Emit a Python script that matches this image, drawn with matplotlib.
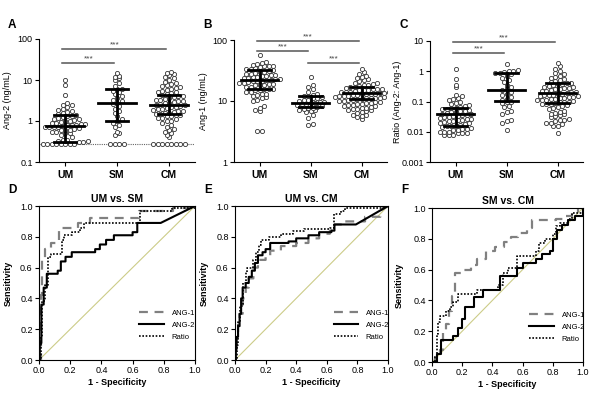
import numpy as np
import matplotlib
matplotlib.use('Agg')
import matplotlib.pyplot as plt
from matplotlib.ticker import FixedLocator, NullLocator

plt.rcParams['font.family'] = ['Liberation Sans', 'DejaVu Sans']

groups = ['UM', 'SM', 'CM']

# ---- panel A: Ang-2 (ng/mL) ----
ang2_um = [0.27] * 8 + [0.3, 0.3, 0.32, 0.33, 0.35, 0.35, 0.4, 0.45, 0.5, 0.5,
           0.55, 0.55, 0.6, 0.6, 0.62, 0.65, 0.68, 0.7, 0.7, 0.72, 0.72, 0.75,
           0.78, 0.8, 0.8, 0.85, 0.85, 0.9, 0.9, 0.95, 1.0, 1.0, 1.05, 1.1, 1.15,
           1.2, 1.25, 1.3, 1.3, 1.4, 1.5, 1.6, 1.7, 1.8, 1.9, 2.0, 2.2, 2.4, 2.5,
           2.7, 4.2, 7.5, 10.0]
ang2_sm = [0.27] * 4 + [0.45, 0.5, 0.55, 0.7, 0.8, 0.9, 1.0, 1.1, 1.3, 1.6, 1.8,
           2.0, 2.3, 2.6, 2.8, 3.0, 3.3, 3.6, 4.0, 4.5, 5.0, 5.5, 6.0, 6.2, 7.0,
           8.5, 10.0, 11.0, 12.0, 12.5, 15.0]
ang2_cm = [0.27] * 8 + [0.4, 0.45, 0.5, 0.55, 0.6, 0.65, 0.7, 0.8, 0.9, 1.0,
           1.0, 1.1, 1.2, 1.2, 1.3, 1.3, 1.4, 1.4, 1.5, 1.5, 1.6, 1.6, 1.7, 1.8,
           1.8, 1.9, 2.0, 2.0, 2.1, 2.2, 2.2, 2.3, 2.4, 2.5, 2.6, 2.7, 2.8, 2.9,
           3.0, 3.1, 3.2, 3.3, 3.5, 3.6, 3.8, 4.0, 4.0, 4.2, 4.5, 4.8, 5.0, 5.2,
           5.5, 5.8, 6.0, 6.3, 6.6, 7.0, 7.5, 8.0, 8.5, 9.0, 10.0, 11.0, 12.0,
           13.0, 14.0, 15.0, 16.0]
ang2_med = [0.77, 2.8, 2.45]
ang2_q1 = [0.31, 1.0, 1.45]
ang2_q3 = [1.4, 5.9, 4.3]
ang2_floor = 0.27

# ---- panel B: Ang-1 (ng/mL) ----
ang1_um = [3.2, 3.2, 6.8, 7.2, 7.8, 8.2, 10, 10.5, 11, 11.5, 12, 12.5, 13, 13,
           14, 14, 15, 15, 15.5, 16, 16, 17, 17, 18, 18, 18.5, 19, 19, 20, 20,
           20.5, 21, 21, 21.5, 22, 22, 23, 23, 24, 24, 25, 25, 26, 26, 27, 27,
           28, 28, 29, 30, 30, 31, 32, 33, 34, 35, 36, 37, 37, 38, 39, 40, 42,
           44, 57]
ang1_sm = [4.0, 4.2, 5.2, 5.8, 6.5, 6.8, 7.0, 7.2, 7.5, 7.7, 7.8, 8.0, 8.2, 8.5,
           8.8, 9.0, 9.2, 9.3, 9.5, 9.8, 10, 10.3, 10.5, 11, 11, 11.5, 12, 12.2,
           12.5, 13, 14, 16, 17, 18.5, 25]
ang1_cm = [5.0, 5.5, 5.7, 5.8, 6.0, 6.3, 6.5, 6.8, 7.0, 7.2, 7.3, 7.5, 7.7, 7.8,
           8.0, 8.2, 8.4, 8.5, 8.7, 8.9, 9.0, 9.2, 9.4, 9.6, 9.8, 10, 10, 10.2,
           10.4, 10.6, 10.8, 11, 11, 11.2, 11.4, 11.6, 11.8, 12, 12, 12.2, 12.4,
           12.6, 12.8, 13, 13, 13.2, 13.4, 13.6, 13.8, 14, 14, 14.3, 14.6, 15, 15,
           15.3, 15.6, 16, 16, 16.5, 17, 17, 17.5, 18, 18.5, 19, 19.5, 20, 21,
           22, 23, 24, 25, 26, 28, 30, 33]
ang1_med = [22.3, 9.4, 13.4]
ang1_q1 = [16, 7.9, 10.7]
ang1_q3 = [32, 12.2, 17.2]

# ---- panel C: Ratio (Ang-2: Ang-1) ----
ratio_um = [0.008, 0.008, 0.008, 0.009, 0.009, 0.009, 0.01, 0.01, 0.01, 0.011,
            0.011, 0.012, 0.012, 0.013, 0.014, 0.015, 0.015, 0.016, 0.017, 0.018,
            0.019, 0.02, 0.021, 0.022, 0.023, 0.024, 0.025, 0.026, 0.027, 0.028,
            0.03, 0.031, 0.033, 0.034, 0.035, 0.036, 0.038, 0.04, 0.042, 0.044,
            0.046, 0.048, 0.05, 0.052, 0.055, 0.058, 0.06, 0.062, 0.065, 0.07,
            0.075, 0.08, 0.09, 0.1, 0.11, 0.12, 0.13, 0.15, 0.16, 0.3, 0.35, 0.55,
            1.2]
ratio_sm = [0.011, 0.02, 0.023, 0.025, 0.04, 0.045, 0.05, 0.065, 0.07, 0.09, 0.1,
            0.1, 0.11, 0.12, 0.14, 0.16, 0.18, 0.2, 0.24, 0.28, 0.3, 0.35, 0.45,
            0.5, 0.6, 0.7, 0.8, 0.85, 0.9, 0.95, 1.0, 1.05, 1.1, 1.7]
ratio_cm = [0.009, 0.015, 0.016, 0.018, 0.02, 0.02, 0.022, 0.024, 0.025, 0.027,
            0.03, 0.032, 0.035, 0.038, 0.04, 0.042, 0.045, 0.05, 0.055, 0.06,
            0.065, 0.07, 0.075, 0.08, 0.085, 0.085, 0.09, 0.095, 0.1, 0.1, 0.105,
            0.11, 0.11, 0.115, 0.12, 0.125, 0.13, 0.135, 0.14, 0.145, 0.15, 0.155,
            0.16, 0.165, 0.17, 0.175, 0.18, 0.19, 0.2, 0.21, 0.22, 0.23, 0.24,
            0.25, 0.26, 0.27, 0.28, 0.3, 0.31, 0.33, 0.35, 0.37, 0.38, 0.4, 0.42,
            0.45, 0.48, 0.5, 0.55, 0.6, 0.65, 0.7, 0.8, 0.9, 1.0, 1.2, 1.5, 1.9]
ratio_med = [0.038, 0.24, 0.19]
ratio_q1 = [0.0155, 0.107, 0.087]
ratio_q3 = [0.063, 0.9, 0.4]

# ---- ROC curves (knots: fpr where sensitivity steps up) ----
d_ang1_x = [0, 0.01, 0.02, 0.04, 0.08, 0.13, 0.25, 0.33, 0.64, 0.86, 1.0]
d_ang1_y = [0, 0.42, 0.66, 0.72, 0.76, 0.86, 0.89, 0.92, 0.97, 0.99, 1.0]
d_ang2_x = [0, 0.005, 0.015, 0.03, 0.05, 0.12, 0.14, 0.17, 0.21, 0.36, 0.39,
            0.43, 0.48, 0.60, 0.63, 0.78]
d_ang2_y = [0, 0.11, 0.36, 0.47, 0.56, 0.58, 0.64, 0.67, 0.70, 0.72, 0.75,
            0.78, 0.81, 0.83, 0.89, 0.89]
d_ratio_x = [0, 0.01, 0.02, 0.04, 0.06, 0.08, 0.15, 0.16, 0.21, 0.26, 0.29,
             0.65, 0.85, 1.0]
d_ratio_y = [0, 0.15, 0.38, 0.49, 0.67, 0.69, 0.78, 0.81, 0.83, 0.86, 0.89,
             0.97, 0.99, 1.0]

e_ang1_x = [0, 0.005, 0.01, 0.02, 0.03, 0.05, 0.07, 0.09, 0.12, 0.15, 0.2, 0.23,
            0.3, 0.4, 0.48, 0.55, 0.62, 0.65, 0.7, 0.85, 0.95]
e_ang1_y = [0, 0.06, 0.15, 0.23, 0.3, 0.4, 0.47, 0.53, 0.6, 0.65, 0.68, 0.71,
            0.74, 0.76, 0.79, 0.82, 0.84, 0.88, 0.9, 0.93, 0.97]
e_ang2_x = [0, 0.005, 0.01, 0.02, 0.03, 0.04, 0.05, 0.07, 0.09, 0.11, 0.13, 0.15,
            0.18, 0.20, 0.23, 0.35, 0.40, 0.48, 0.55, 0.63, 0.65, 0.79]
e_ang2_y = [0, 0.07, 0.15, 0.22, 0.30, 0.40, 0.47, 0.50, 0.54, 0.58, 0.63, 0.68,
            0.70, 0.72, 0.76, 0.77, 0.79, 0.81, 0.83, 0.84, 0.88, 0.88]
e_ratio_x = [0, 0.01, 0.02, 0.03, 0.05, 0.07, 0.08, 0.12, 0.14, 0.16, 0.17, 0.22,
             0.3, 0.38, 0.45, 0.62, 0.65, 0.69, 0.72, 0.97]
e_ratio_y = [0, 0.1, 0.25, 0.35, 0.5, 0.57, 0.6, 0.65, 0.7, 0.75, 0.78, 0.8,
             0.82, 0.84, 0.85, 0.86, 0.95, 0.97, 0.99, 1.0]

f_ang1_x = [0, 0.02, 0.05, 0.07, 0.09, 0.11, 0.13, 0.15, 0.2, 0.26, 0.3, 0.36,
            0.42, 0.48, 0.52, 0.57, 0.63, 0.66, 0.82, 0.88, 0.93, 0.97]
f_ang1_y = [0, 0.03, 0.08, 0.2, 0.25, 0.33, 0.43, 0.58, 0.6, 0.63, 0.67, 0.72,
            0.75, 0.78, 0.81, 0.84, 0.87, 0.92, 0.93, 0.95, 0.97, 1.0]
f_ang2_x = [0, 0.03, 0.06, 0.14, 0.17, 0.2, 0.22, 0.28, 0.34, 0.45, 0.56, 0.6,
            0.69, 0.73, 0.78, 0.8, 0.83, 0.86, 0.9, 0.95, 1.0]
f_ang2_y = [0, 0.05, 0.14, 0.17, 0.22, 0.28, 0.36, 0.42, 0.47, 0.56, 0.61, 0.64,
            0.67, 0.70, 0.72, 0.80, 0.86, 0.89, 0.92, 0.95, 1.0]
f_ratio_x = [0, 0.02, 0.03, 0.04, 0.05, 0.09, 0.12, 0.14, 0.17, 0.3, 0.44, 0.47,
             0.5, 0.56, 0.69, 0.71, 0.75, 0.8, 0.82, 0.85, 0.9, 0.93, 1.0]
f_ratio_y = [0, 0.03, 0.18, 0.26, 0.3, 0.33, 0.36, 0.39, 0.44, 0.47, 0.5, 0.58,
             0.61, 0.69, 0.72, 0.77, 0.8, 0.83, 0.88, 0.9, 0.93, 0.97, 1.0]

W, H = 600, 403
fig = plt.figure(figsize=(W / 100, H / 100), dpi=100)


def box(l, t, r, b):
    return [l / W, 1 - b / H, (r - l) / W, (b - t) / H]


def swarm(ax, values, center, ppd, ppu, row_px=4.5, col_px=4.5):
    v = np.asarray(values, float)
    rows = np.round(np.log10(v) * ppd / row_px)
    xs = np.zeros(len(v))
    for r in np.unique(rows):
        idx = np.where(rows == r)[0]
        n = len(idx)
        xs[idx] = center + (np.arange(n) - (n - 1) / 2) * col_px / ppu
    ax.scatter(xs, v, s=9, facecolors='white', edgecolors='#333333',
               linewidths=0.6, zorder=2)


def dot_panel(rect, data, med, q1, q3, ylim, ticks, ylabel, sigs, letter, lx):
    ax = fig.add_axes(box(*rect))
    ax.set_yscale('log')
    ax.set_xlim(-0.5, 2.5)
    ax.set_ylim(*ylim)
    ppu = (rect[2] - rect[0]) / 3
    ppd = (rect[3] - rect[1]) / np.log10(ylim[1] / ylim[0])
    for i, vals in enumerate(data):
        swarm(ax, vals, i, ppd, ppu)
        ax.plot([i, i], [q1[i], q3[i]], color='black', lw=2, zorder=3)
        ax.plot([i - 0.36, i + 0.36], [med[i]] * 2, color='black', lw=2, zorder=3)
        for q in (q1[i], q3[i]):
            ax.plot([i - 0.22, i + 0.22], [q, q], color='black', lw=2, zorder=3)
    for a, b, y in sigs:
        ax.plot([a - 0.05, b - 0.05], [y, y], color='#555555', lw=1.1,
                clip_on=False)
        ax.annotate('***', ((a + b) / 2 - 0.05, y), xytext=(0, 0.5),
                    textcoords='offset points', ha='center', va='bottom',
                    fontsize=6, color='#444444', annotation_clip=False)
    ax.yaxis.set_major_locator(FixedLocator(ticks))
    ax.yaxis.set_minor_locator(NullLocator())
    ax.set_yticklabels(['%g' % t for t in ticks])
    ax.set_xticks([0, 1, 2])
    ax.set_xticklabels(groups, fontweight='bold', fontsize=7.5)
    ax.tick_params(axis='y', labelsize=6.5, length=3, width=0.8, pad=1.5)
    ax.tick_params(axis='x', length=3, width=0.8, pad=3)
    ax.spines['top'].set_visible(False)
    ax.spines['right'].set_visible(False)
    for s in ('left', 'bottom'):
        ax.spines[s].set_linewidth(0.8)
    ax.set_ylabel(ylabel, fontsize=6.5)
    ax.yaxis.set_label_coords(lx, 0.5)
    fig.text((rect[0] - 31) / W, 1 - 25 / H, letter, fontsize=8.5,
             fontweight='bold', va='center', ha='left')
    return ax


axA = dot_panel((39, 39, 195, 162), [ang2_um, ang2_sm, ang2_cm], ang2_med,
                ang2_q1, ang2_q3, (0.1, 100), [0.1, 1, 10, 100],
                'Ang-2 (ng/mL)', [(0, 2, 57), (0, 1, 26)], 'A', -0.17)
axA.axhline(ang2_floor, color='#666666', lw=0.8, ls=(0, (1, 1)), zorder=1)

dot_panel((234, 40, 387, 162), [ang1_um, ang1_sm, ang1_cm], ang1_med, ang1_q1,
          ang1_q3, (1, 100), [1, 10, 100], 'Ang-1 (ng/mL)',
          [(0, 2, 96), (0, 1, 66), (1, 2, 42)], 'B', -0.17)

dot_panel((430, 41, 583, 162), [ratio_um, ratio_sm, ratio_cm], ratio_med,
          ratio_q1, ratio_q3, (0.001, 10), [0.001, 0.01, 0.1, 1, 10],
          'Ratio (Ang-2: Ang-1)', [(0, 2, 9.3), (0, 1, 4.0)], 'C', -0.18)


def roc_line(ax, xs, ys, **kw):
    px, py = [xs[0]], [ys[0]]
    for i in range(1, len(xs)):
        px += [xs[i], xs[i]]
        py += [ys[i - 1], ys[i]]
    px.append(1.0)
    py.append(1.0)
    ax.plot(px, py, **kw)


def roc_panel(rect, curves, title, letter, lx):
    ax = fig.add_axes(box(*rect))
    ax.set_xlim(0, 1)
    ax.set_ylim(0, 1)
    ax.plot([0, 1], [0, 1], color='#cccc88', lw=0.8, zorder=1)
    (a1x, a1y), (a2x, a2y), (rx, ry) = curves
    roc_line(ax, a1x, a1y, color='#808080', lw=1.6, ls=(0, (4, 3)), label='ANG-1')
    roc_line(ax, a2x, a2y, color='black', lw=1.5, label='ANG-2')
    roc_line(ax, rx, ry, color='black', lw=1.2, ls=(0, (1, 1)), label='Ratio')
    ticks = [0, 0.2, 0.4, 0.6, 0.8, 1.0]
    ax.set_xticks(ticks)
    ax.set_yticks(ticks)
    ax.set_xticklabels(['%.1f' % t for t in ticks])
    ax.set_yticklabels(['%.1f' % t for t in ticks])
    ax.tick_params(labelsize=6.5, length=3, width=0.8, pad=1.5)
    for s in ax.spines.values():
        s.set_linewidth(0.8)
    ax.set_xlabel('1 - Specificity', fontsize=6.5, fontweight='bold')
    ax.xaxis.set_label_coords(0.5, -0.12)
    ax.set_ylabel('Sensitivity', fontsize=6.5, fontweight='bold')
    ax.yaxis.set_label_coords(lx, 0.5)
    ax.set_title(title, fontsize=7.5, fontweight='bold', pad=3)
    ax.legend(loc='lower left', bbox_to_anchor=(0.6, 0.08), frameon=False,
              fontsize=5.5, handlelength=3.2, labelspacing=0.6,
              handletextpad=1.0)
    fig.text((rect[0] - 31) / W, 1 - 190 / H, letter, fontsize=8.5,
             fontweight='bold', va='center', ha='left')
    return ax


roc_panel((39, 206, 195, 360),
          [(d_ang1_x, d_ang1_y), (d_ang2_x, d_ang2_y), (d_ratio_x, d_ratio_y)],
          'UM vs. SM', 'D', -0.17)
roc_panel((235, 206, 388, 360),
          [(e_ang1_x, e_ang1_y), (e_ang2_x, e_ang2_y), (e_ratio_x, e_ratio_y)],
          'UM vs. CM', 'E', -0.17)
roc_panel((432, 208, 583, 362),
          [(f_ang1_x, f_ang1_y), (f_ang2_x, f_ang2_y), (f_ratio_x, f_ratio_y)],
          'SM vs. CM', 'F', -0.19)

fig.savefig('out.png', dpi=100)
